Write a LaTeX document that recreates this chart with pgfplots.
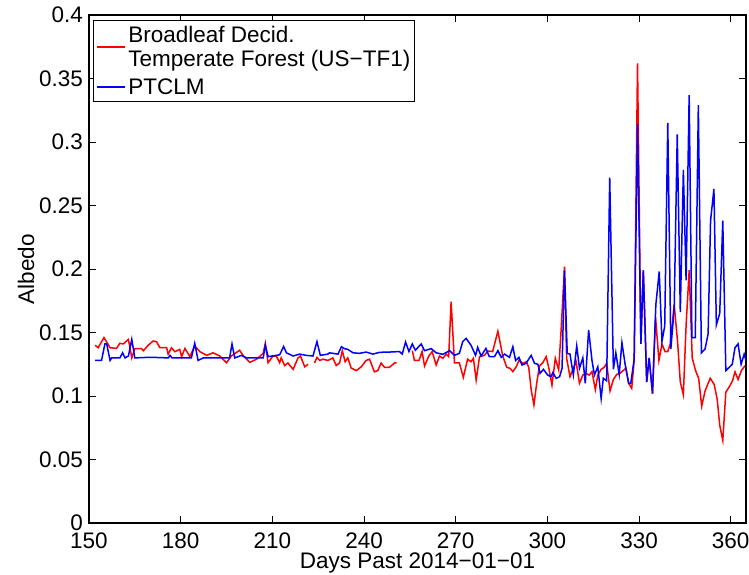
\documentclass[border=0pt]{standalone}
\usepackage{fontspec}
\setmainfont{Liberation Sans}
\usepackage{pgfplots}
\pgfplotsset{compat=1.18}
\begin{document}
\begin{tikzpicture}
\path[use as bounding box] (-89pt,-51pt) rectangle (660pt,523pt);
\begin{axis}[
  at={(0pt,0pt)}, anchor=south west,
  scale only axis, width=657pt, height=508pt,
  xmin=150, xmax=365, ymin=0, ymax=0.4,
  xtick={150,180,210,240,270,300,330,360},
  xticklabels={150,180,210,240,270,300,330,360},
  ytick={0,0.05,0.1,0.15,0.2,0.25,0.3,0.35,0.4},
  yticklabels={0,0.05,0.1,0.15,0.2,0.25,0.3,0.35,0.4},
  scaled y ticks=false,
  tick align=inside, tick pos=both,
  major tick length=7pt,
  axis line style={line width=1.2pt},
  every tick/.style={black, line width=1pt},
  tick label style={font=\fontsize{22.5}{26}\selectfont, inner sep=0pt},
  every x tick label/.append style={anchor=base, yshift=-25pt},
  every y tick label/.append style={anchor=east, xshift=-6pt},
  xlabel={Days Past 2014−01−01},
  ylabel={Albedo},
  every axis x label/.style={at={(axis description cs:0.5,-0.0886)}, anchor=base, inner sep=0pt, font=\fontsize{22.5}{26}\selectfont},
  every axis y label/.style={at={(axis description cs:-0.0837,0.5)}, anchor=base, rotate=90, inner sep=0pt, font=\fontsize{22.5}{26}\selectfont},
  unbounded coords=jump,
  legend style={at={(axis description cs:0.006,0.990)}, anchor=north west, draw=black, line width=1pt, fill=white,
    font=\fontsize{22.5}{24.5}\selectfont, inner xsep=3pt, inner ysep=4pt, row sep=7pt, column sep=1pt,
    cells={align=left}, nodes={inner sep=1.5pt}},
  legend cell align=left,
  legend image code/.code={\draw[#1, line width=1.5pt] (0pt,0pt) -- (28pt,0pt);},
]
\addplot[red, line width=1.5pt, no markers] coordinates {
(152.0,0.140) (153.0,0.138) (154.9,0.146) (156.9,0.138) (159.0,0.1375) (160.1,0.1415) (161.2,0.141) (162.9,0.1446)
(164.0,0.130) (165.0,0.1373) (167.2,0.1373) (167.8,0.1357) (169.4,0.140) (171.0,0.1433) (172.1,0.1428) (173.2,0.138)
(175.4,0.138) (175.9,0.133) (177.0,0.138) (178.1,0.1349) (179.7,0.1367) (180.3,0.131) (181.4,0.1375) (183.0,0.131)
(184.6,0.1394) (186.3,0.1349) (188.5,0.132) (190.6,0.134) (192.8,0.1315) (195.0,0.1262) (196.6,0.1315) (199.3,0.136)
(200.4,0.132) (202.6,0.1265) (204.8,0.1289) (207.0,0.1336) (207.7,0.1415) (208.6,0.1262) (210.2,0.1315) (211.3,0.1315)
(212.4,0.1262) (212.9,0.130) (214.0,0.124) (215.1,0.126) (216.8,0.121) (218.4,0.130) (219.2,0.1315) (220.6,0.123)
(221.7,0.125) (222.7,nan)
(223.8,0.126) (224.6,0.1304) (225.5,0.128) (226.6,0.129) (228.2,0.128) (229.8,0.130) (230.9,0.124) (232.0,0.126)
(232.9,0.1357) (233.8,0.127) (234.7,0.130) (235.8,0.122) (237.5,0.120) (239.1,0.123) (240.7,0.128) (241.8,0.129)
(243.4,0.119) (244.5,0.120) (245.6,0.126) (246.7,0.1226) (248.3,0.1226) (250.0,0.126) (250.7,0.126) (253.0,nan)
(255.8,0.1357) (256.5,0.128) (258.0,0.128) (259.0,0.135) (259.8,0.1236) (261.2,0.1315) (262.3,0.135) (263.6,0.1244)
(264.7,0.1315) (265.8,0.1297) (266.9,0.133) (267.7,0.131) (268.5,0.1743) (269.6,0.126) (271.2,0.126) (272.5,0.1147)
(273.9,0.129) (275.0,0.127) (275.8,0.1297) (276.7,0.1126) (277.8,0.131) (279.4,0.132) (280.5,0.1354) (282.1,0.135)
(283.8,0.151) (285.4,0.1315) (286.7,0.1226) (287.8,0.1218) (288.7,0.1192) (289.8,0.123) (290.7,0.128) (292.0,0.1257)
(293.1,0.127) (293.9,0.1226) (294.7,0.105) (295.6,0.0929) (296.5,0.110) (297.4,0.1236) (298.5,0.1262) (299.6,0.131)
(300.5,0.1218) (301.5,0.1086) (302.6,0.1297) (303.7,0.1205) (304.5,0.152) (305.6,0.2018) (306.3,0.1297) (307.4,0.1152)
(308.5,0.1218) (309.4,0.127) (310.5,0.110) (311.6,0.1165) (312.7,0.1178) (313.7,0.1165) (314.6,0.1192) (315.7,0.105)
(316.5,0.1165) (317.6,0.121) (318.6,0.1226) (319.4,0.1257) (320.5,0.104) (321.6,0.113) (322.7,0.117) (323.8,0.118)
(324.8,0.120) (325.7,0.122) (326.6,0.110) (327.6,0.106) (328.4,0.128) (329.5,0.362) (330.6,0.141) (331.4,0.199)
(332.5,0.111) (333.3,0.130) (334.4,0.102) (335.4,0.162) (336.5,0.128) (337.5,0.141) (338.5,0.135) (339.4,0.135)
(340.2,0.141) (341.5,0.172) (342.6,0.143) (343.5,0.111) (344.5,0.101) (345.4,0.156) (346.4,0.199) (347.4,0.130)
(348.5,0.120) (349.5,0.114) (350.5,0.092) (351.6,0.104) (353.3,0.114) (354.6,0.109) (355.6,0.097) (356.4,0.077)
(357.4,0.065) (358.4,0.103) (359.7,0.108) (360.6,0.112) (361.4,0.119) (362.4,0.113) (363.5,0.120) (364.7,0.124)
};
\addlegendentry{Broadleaf Decid.\\Temperate Forest (US−TF1)}
\addplot[blue, line width=1.5pt, no markers] coordinates {
(152.0,0.128) (154.1,0.128) (155.2,0.141) (155.8,0.141) (156.9,0.128) (157.4,0.130) (160.1,0.130) (161.0,0.134)
(161.8,0.130) (162.9,0.1315) (164.0,0.1446) (165.0,0.130) (170.0,0.1305) (176.0,0.130) (176.5,0.132) (177.2,0.130)
(183.5,0.130) (184.6,0.1415) (185.7,0.128) (187.4,0.130) (196.0,0.130) (196.8,0.141) (197.7,0.130) (199.9,0.132)
(201.5,0.130) (207.0,0.130) (207.7,0.140) (208.6,0.131) (211.3,0.132) (212.4,0.1325) (213.7,0.139) (214.6,0.134)
(216.8,0.1315) (218.9,0.133) (221.1,0.132) (223.3,0.1315) (224.6,0.1428) (225.7,0.132) (228.2,0.133) (228.7,0.134)
(231.5,0.133) (232.6,0.1388) (233.6,0.1373) (234.7,0.1367) (236.4,0.134) (238.5,0.1336) (240.7,0.1346) (242.9,0.133)
(245.1,0.1344) (248.3,0.1346) (251.6,0.135) (252.5,0.133) (253.6,0.1425) (254.7,0.135) (255.8,0.141) (256.8,0.136)
(258.7,0.141) (259.8,0.1357) (262.0,0.1373) (263.6,0.134) (265.8,0.1328) (268.0,0.1357) (269.6,0.132) (271.2,0.1336)
(272.3,0.1428) (273.4,0.1454) (275.0,0.140) (276.5,0.132) (277.2,0.1383) (278.3,0.1315) (279.9,0.1375) (281.0,0.131)
(282.7,0.131) (283.8,0.1357) (284.9,0.1304) (286.0,0.133) (287.6,0.1304) (288.7,0.1388) (289.6,0.128) (290.7,0.1304)
(291.7,0.1244) (293.0,0.1257) (294.7,0.132) (295.8,0.1257) (296.9,0.125) (297.6,0.1178) (298.7,0.121) (300.1,0.1165)
(301.2,0.1152) (301.8,0.1184) (302.9,0.1139) (304.0,0.1152) (304.8,0.1218) (305.6,0.199) (306.5,0.1336) (307.4,0.133)
(308.5,0.1165) (309.6,0.1394) (310.5,0.1218) (311.6,0.130) (312.4,0.110) (313.5,0.152) (314.6,0.128) (315.4,0.1165)
(316.5,0.123) (317.6,0.098) (318.3,0.114) (319.4,0.112) (320.4,0.272) (321.6,0.121) (322.4,0.134) (323.5,0.117)
(324.4,0.142) (325.5,0.124) (326.6,0.110) (327.3,0.110) (328.4,0.129) (329.5,0.314) (330.6,0.141) (331.4,0.199)
(332.5,0.111) (333.3,0.130) (334.4,0.102) (335.5,0.172) (336.6,0.198) (337.5,0.143) (338.4,0.155) (339.4,0.315)
(340.4,0.137) (341.5,0.169) (342.5,0.306) (343.5,0.166) (344.5,0.278) (345.4,0.191) (346.4,0.337) (347.3,0.146)
(348.4,0.146) (349.4,0.329) (350.4,0.134) (351.6,0.137) (352.6,0.149) (353.4,0.238) (354.5,0.263) (355.3,0.156)
(356.4,0.165) (357.4,0.238) (358.4,0.120) (359.7,0.123) (360.5,0.125) (361.4,0.138) (362.4,0.141) (363.4,0.125)
(364.4,0.133) (365.0,0.128)
};
\addlegendentry{PTCLM}
\end{axis}
\end{tikzpicture}
\end{document}
